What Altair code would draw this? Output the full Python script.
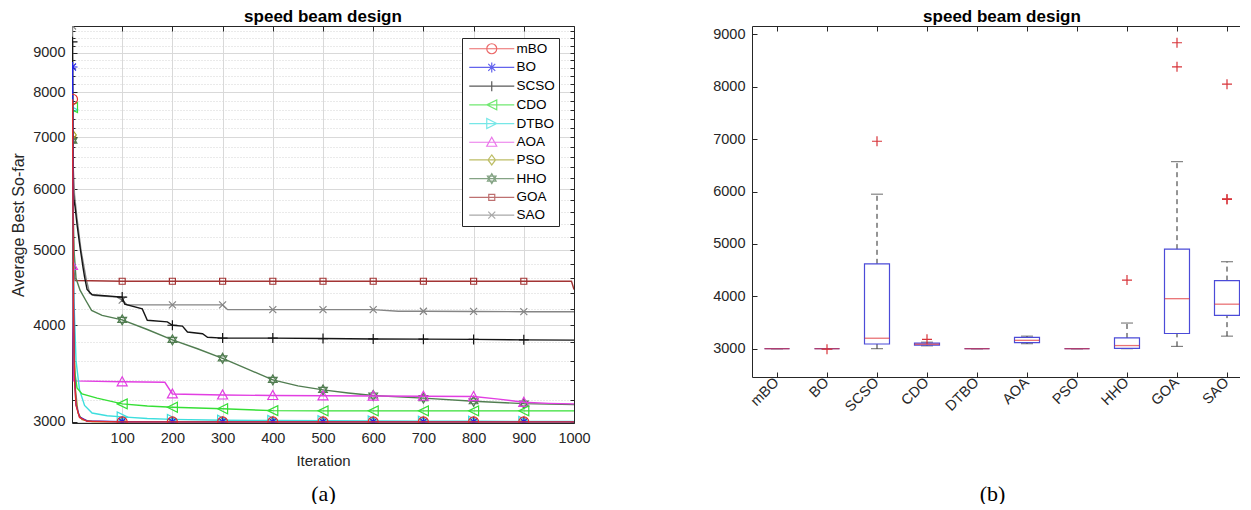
import altair as alt
import pandas as pd

SANS = "Liberation Sans"
SERIF = "Liberation Serif"
AXC = "#262626"

SERIES = ["mBO", "BO", "SCSO", "CDO", "DTBO", "AOA", "PSO", "HHO", "GOA", "SAO"]
COLORS = ["#e42b2b", "#2222e6", "#151515", "#36df36", "#3ddede", "#e23ee2",
          "#a3a326", "#517d51", "#a33434", "#858585"]
MARKERS = [
    "M1,0A1,1 0 1,1 -1,0A1,1 0 1,1 1,0Z",
    "M-1,0H1M0,-1V1M-0.7,-0.7L0.7,0.7M-0.7,0.7L0.7,-0.7",
    "M-1,0H1M0,-1V1",
    "M-1,0L1,-1L1,1Z",
    "M1,0L-1,-1L-1,1Z",
    "M0,-1L1,0.8L-1,0.8Z",
    "M0,-1L0.75,0L0,1L-0.75,0Z",
    "M0,-1L0.87,0.5L-0.87,0.5ZM0,1L0.87,-0.5L-0.87,-0.5Z",
    "M-0.6,-0.6H0.6V0.6H-0.6Z",
    "M-0.7,-0.7L0.7,0.7M-0.7,0.7L0.7,-0.7",
]
LEGEND_SYMBOLS = ["M-4.5,0H4.5" + m for m in MARKERS]

MARK_IT = [1, 100, 200, 300, 400, 500, 600, 700, 800, 900]
X_TICKS = [100, 200, 300, 400, 500, 600, 700, 800, 900, 1000]
Y_TICKS = [3000, 4000, 5000, 6000, 7000, 8000, 9000]
Y_MINOR = [3200, 3400, 3600, 3800, 4200, 4400, 4600, 4800, 5200, 5400, 5600, 5800,
           6200, 6400, 6600, 6800, 7200, 7400, 7600, 7800, 8200, 8400, 8600, 8800,
           9200, 9400, 9600]

# ---- convergence curves (iteration, average best so far) ----
mBO_it = [1, 2, 3, 5, 8, 15, 30, 100, 200, 300, 400, 500, 600, 700, 800, 900, 1000]
mBO_val = [7840, 5600, 4200, 3400, 3150, 3040, 3005, 3000, 3000, 3000, 3000, 3000, 3000, 3000, 3000, 3000, 3000]
BO_it = [1, 2, 3, 5, 8, 15, 30, 100, 200, 300, 400, 500, 600, 700, 800, 900, 1000]
BO_val = [8630, 5900, 4300, 3450, 3160, 3045, 3008, 3001, 3000, 3000, 3000, 3000, 3000, 3000, 3000, 3000, 3000]
SCSO_it = [1, 2, 4, 6, 10, 15, 22, 25, 30, 40, 100, 105, 140, 150, 190, 200, 220, 230, 260, 270, 300,
           400, 500, 600, 700, 800, 900, 1000]
SCSO_val = [9300, 6000, 5800, 5700, 5400, 5100, 4750, 4620, 4450, 4380, 4350, 4260, 4200, 4060, 4040, 4000,
            3990, 3920, 3900, 3860, 3850, 3850, 3845, 3840, 3838, 3835, 3830, 3827]
CDO_it = [1, 2, 3, 5, 10, 20, 50, 100, 150, 200, 300, 400, 500, 600, 700, 800, 900, 1000]
CDO_val = [7650, 5000, 4000, 3500, 3320, 3260, 3220, 3165, 3145, 3133, 3119, 3102, 3100, 3100, 3100, 3100, 3100, 3100]
DTBO_it = [1, 2, 4, 8, 15, 25, 40, 70, 100, 150, 200, 300, 400, 500, 600, 700, 800, 900, 1000]
DTBO_val = [7600, 5500, 4300, 3600, 3300, 3150, 3080, 3055, 3045, 3030, 3022, 3015, 3012, 3010, 3008, 3006,
            3005, 3004, 3003]
AOA_it = [1, 3, 100, 185, 200, 300, 400, 500, 600, 700, 800, 850, 900, 950, 1000]
AOA_val = [4780, 3390, 3380, 3375, 3260, 3250, 3245, 3242, 3240, 3238, 3235, 3210, 3180, 3170, 3165]
PSO_it = [1, 2, 4, 7, 12, 20, 40, 100, 200, 300, 400, 500, 600, 700, 800, 900, 1000]
PSO_val = [7050, 5000, 3800, 3300, 3080, 3020, 3003, 3000, 3000, 3000, 3000, 3000, 3000, 3000, 3000, 3000, 3000]
HHO_it = [1, 2, 4, 8, 16, 29, 39, 60, 100, 150, 200, 250, 300, 350, 400, 450, 500, 550, 600, 700, 800, 900, 1000]
HHO_val = [6930, 5800, 5000, 4600, 4440, 4290, 4180, 4120, 4065, 3950, 3830, 3730, 3625, 3510, 3400, 3340,
           3300, 3270, 3245, 3220, 3190, 3168, 3158]
GOA_it = [1, 2, 4, 6, 100, 200, 300, 400, 500, 600, 700, 800, 900, 995, 1000]
GOA_val = [6950, 5500, 4700, 4570, 4560, 4560, 4560, 4560, 4560, 4560, 4560, 4560, 4560, 4560, 4450]
SAO_it = [1, 2, 5, 10, 18, 28, 35, 45, 90, 100, 110, 200, 300, 310, 400, 500, 600, 650, 700, 800, 900, 1000]
SAO_val = [9750, 6500, 5900, 5500, 5000, 4600, 4400, 4370, 4350, 4310, 4250, 4250, 4250, 4190, 4190, 4190,
           4190, 4170, 4170, 4168, 4165, 4165]

CURVE_IT = {"mBO": mBO_it, "BO": BO_it, "SCSO": SCSO_it, "CDO": CDO_it, "DTBO": DTBO_it,
            "AOA": AOA_it, "PSO": PSO_it, "HHO": HHO_it, "GOA": GOA_it, "SAO": SAO_it}
CURVE_VAL = {"mBO": mBO_val, "BO": BO_val, "SCSO": SCSO_val, "CDO": CDO_val, "DTBO": DTBO_val,
             "AOA": AOA_val, "PSO": PSO_val, "HHO": HHO_val, "GOA": GOA_val, "SAO": SAO_val}

# ---- box plot statistics ----
BOX_LO = [3000, 3000, 3000, 3055, 3000, 3095, 3000, 3000, 3045, 3240]
BOX_Q1 = [3000, 3000, 3090, 3070, 3000, 3115, 3000, 3005, 3290, 3635]
BOX_MED = [3000, 3000, 3200, 3085, 3000, 3160, 3000, 3060, 3955, 3850]
BOX_Q3 = [3000, 3000, 4620, 3105, 3000, 3215, 3000, 3205, 4900, 4300]
BOX_HI = [3000, 3000, 5950, 3125, 3000, 3240, 3000, 3490, 6570, 4660]
OUT_CAT = ["BO", "SCSO", "CDO", "HHO", "GOA", "GOA", "SAO", "SAO", "SAO"]
OUT_VAL = [2990, 6960, 3180, 4310, 8840, 8380, 8050, 5860, 5850]
Y2_TICKS = [3000, 4000, 5000, 6000, 7000, 8000, 9000]

W1, H1 = 502, 397
W2, H2 = 500, 351

rows = []
for s in reversed(SERIES):
    for it, v in zip(CURVE_IT[s], CURVE_VAL[s]):
        rows.append({"series": s, "it": it, "val": v})
curves = pd.DataFrame(rows)

box = pd.DataFrame({"cat": SERIES, "lo": BOX_LO, "q1": BOX_Q1, "med": BOX_MED,
                    "q3": BOX_Q3, "hi": BOX_HI})
outl = pd.DataFrame({"cat": OUT_CAT, "val": OUT_VAL})


def ax(orient, **kw):
    base = dict(orient=orient, labelFont=SANS, labelColor=AXC, labelFontSize=14.5,
                domainColor=AXC, domainWidth=1, tickColor=AXC, tickWidth=1,
                titleFont=SANS, titleColor=AXC, titleFontWeight="normal",
                grid=False, ticks=False, labels=False, domain=False, title=None,
                labelFlush=False, labelOverlap=False)
    base.update(kw)
    return alt.Axis(**base)


title_params = dict(fontSize=17, fontWeight="bold", font=SANS, color="black", offset=0, anchor="middle")

# ================= left panel =================
xs1 = alt.Scale(domain=[0, 1000], nice=False, zero=False)
ys1 = alt.Scale(type="log", domain=[2990, 9750], nice=False)
cs = alt.Scale(domain=SERIES, range=COLORS)
base1 = alt.Chart(curves)


def axes1(xaxis, yaxis):
    return base1.transform_filter("false").mark_line().encode(
        x=alt.X("it:Q", scale=xs1, axis=xaxis),
        y=alt.Y("val:Q", scale=ys1, axis=yaxis),
    )


L = []
L.append(axes1(
    ax("bottom", values=X_TICKS, format="d", labels=True, domain=True, grid=True, gridColor="#d9d9d9",
       title="Iteration", titleFontSize=15, labelPadding=8, titlePadding=9),
    ax("left", values=Y_TICKS, format="d", labels=True, domain=True, grid=True, gridColor="#d9d9d9",
       title="Average Best So-far", titleFontSize=16, labelPadding=7, titlePadding=6),
))
L.append(axes1(
    ax("top", offset=-H1, values=X_TICKS, ticks=True, tickSize=5),
    ax("right", offset=-W1, values=Y_MINOR, ticks=True, tickSize=3, grid=True,
       gridColor="#d4d4d4", gridDash=[1, 2]),
))
L.append(axes1(
    ax("bottom", offset=-H1, values=X_TICKS, ticks=True, tickSize=5, domain=True),
    ax("left", offset=-W1, values=Y_TICKS + Y_MINOR, ticks=True, tickSize=4, domain=True),
))
L.append(axes1(
    ax("bottom", values=[500], title="(a)", titleFont=SERIF, titleFontSize=22, titleColor="black",
       titleY=60, titleBaseline="top"),
    ax("right", offset=-W1, values=Y_TICKS, ticks=True, tickSize=5),
))

for s in reversed(SERIES):
    i = SERIES.index(s)
    sub = base1.transform_filter(alt.datum.series == s)
    L.append(sub.mark_line(strokeWidth=1.4, clip=True, color=COLORS[i]).encode(
        x=alt.X("it:Q", scale=xs1, axis=None),
        y=alt.Y("val:Q", scale=ys1, axis=None),
    ))
    L.append(sub.transform_filter(alt.FieldOneOfPredicate(field="it", oneOf=MARK_IT)).mark_point(
        shape=MARKERS[i], filled=False, size=100, strokeWidth=1.2, opacity=1, clip=True,
        color=COLORS[i]).encode(
        x=alt.X("it:Q", scale=xs1, axis=None),
        y=alt.Y("val:Q", scale=ys1, axis=None),
    ))

LEG = alt.Legend(title=None, orient="none", legendX=390, legendY=12, fillColor="white", strokeColor=AXC,
                 padding=4, rowPadding=2.7, labelFont=SANS, labelFontSize=13.5, labelColor="black",
                 symbolSize=100, symbolStrokeWidth=1.2, symbolOffset=19, labelOffset=18)
L.append(base1.transform_filter("false").mark_point(filled=False, strokeWidth=1.2).encode(
    x=alt.X("it:Q", scale=xs1, axis=None),
    y=alt.Y("val:Q", scale=ys1, axis=None),
    color=alt.Color("series:N", scale=cs, legend=LEG),
    shape=alt.Shape("series:N", scale=alt.Scale(domain=SERIES, range=LEGEND_SYMBOLS), legend=LEG),
))

left = alt.layer(*L).resolve_axis(x="independent", y="independent").properties(
    width=W1, height=H1, title=alt.TitleParams("speed beam design", **title_params))

# ================= right panel =================
xs2 = alt.Scale(domain=SERIES, paddingInner=0, paddingOuter=0)
ys2 = alt.Scale(domain=[2460, 9160], nice=False, zero=False)
bbox = alt.Chart(box)


def axes2(xaxis, yaxis):
    return bbox.transform_filter("false").mark_point().encode(
        x=alt.X("cat:N", scale=xs2, axis=xaxis, sort=SERIES),
        y=alt.Y("med:Q", scale=ys2, axis=yaxis),
    )


R = []
R.append(axes2(
    ax("bottom", labels=True, domain=True, labelAngle=315, labelAlign="right", labelBaseline="middle",
       labelPadding=3, labelFontSize=14.5),
    ax("left", values=Y2_TICKS, format="d", labels=True, domain=True, labelPadding=7),
))
R.append(axes2(
    ax("top", offset=-H2, ticks=True, tickSize=5),
    ax("right", offset=-W2, values=Y2_TICKS, ticks=True, tickSize=5),
))
R.append(axes2(
    ax("bottom", offset=-H2, ticks=True, tickSize=5, domain=True),
    ax("left", offset=-W2, values=Y2_TICKS, ticks=True, tickSize=5, domain=True),
))
R.append(axes2(
    ax("bottom", title="(b)", titleFont=SERIF, titleFontSize=22, titleColor="black",
       titleY=106, titleX=240, titleBaseline="top"),
    None,
))


def xcat():
    return alt.X("cat:N", scale=xs2, axis=None, sort=SERIES)


R.append(bbox.transform_fold(["lo", "hi"], as_=["k", "v"]).mark_tick(
    size=12, thickness=1, color="#2b2b2b").encode(x=xcat(), y=alt.Y("v:Q", scale=ys2, axis=None)))
R.append(bbox.mark_rule(strokeDash=[5, 4], color="#2b2b2b", strokeWidth=1).encode(
    x=xcat(), y=alt.Y("q3:Q", scale=ys2, axis=None), y2="hi:Q"))
R.append(bbox.mark_rule(strokeDash=[5, 4], color="#2b2b2b", strokeWidth=1).encode(
    x=xcat(), y=alt.Y("lo:Q", scale=ys2, axis=None), y2="q1:Q"))
R.append(bbox.mark_bar(size=25, fill="white", fillOpacity=0, stroke="#4b4bd8", strokeWidth=1.2).encode(
    x=xcat(), y=alt.Y("q1:Q", scale=ys2, axis=None), y2="q3:Q"))
R.append(bbox.mark_tick(size=25, thickness=1.3, color="#e0363a").encode(
    x=xcat(), y=alt.Y("med:Q", scale=ys2, axis=None)))
R.append(alt.Chart(outl).mark_point(shape="M-1,0H1M0,-1V1", filled=False, size=100, strokeWidth=1.2,
                                     color="#d8343a", opacity=1).encode(
    x=xcat(), y=alt.Y("val:Q", scale=ys2, axis=None)))

right = alt.layer(*R).resolve_axis(x="independent", y="independent").properties(
    width=W2, height=H2, title=alt.TitleParams("speed beam design", **title_params))

chart = alt.hconcat(left, right, spacing=121).properties(
    padding={"left": 2, "top": -1, "right": -13, "bottom": 0}
).configure(font=SANS).configure_view(stroke=None)

chart.save("out.html", embed_options={"renderer": "svg", "actions": False})
